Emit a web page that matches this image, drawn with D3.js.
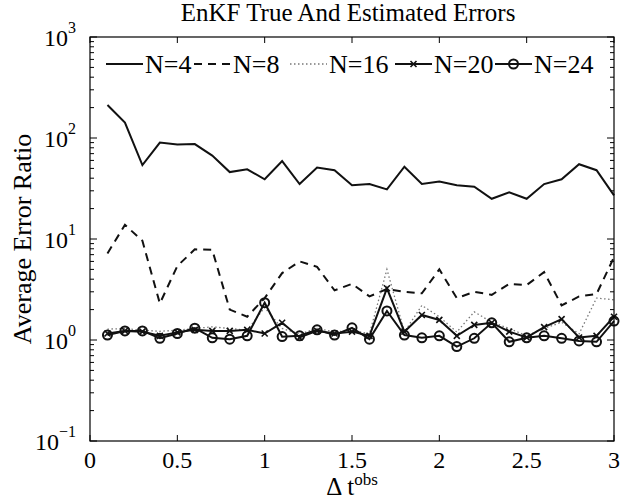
<!DOCTYPE html>
<html>
<head>
<meta charset="utf-8">
<script src="https://cdn.jsdelivr.net/npm/d3@7"></script>
<style>
  body { margin: 0; background: white; }
  text { font-family: "Liberation Serif", "Times New Roman", serif; fill: black; }
</style>
</head>
<body>
<div id="chart"></div>
<script>
var dt = [0.1, 0.2, 0.3, 0.4, 0.5, 0.6, 0.7, 0.8, 0.9, 1.0,
          1.1, 1.2, 1.3, 1.4, 1.5, 1.6, 1.7, 1.8, 1.9, 2.0,
          2.1, 2.2, 2.3, 2.4, 2.5, 2.6, 2.7, 2.8, 2.9, 3.0];

var n4  = [212, 142, 54, 90, 86, 87, 67, 46, 49, 39,
           59, 35, 51, 48, 34, 35, 31, 52, 35, 37,
           34, 33, 25, 29, 25, 35, 39, 55, 48, 27];
var n8  = [7.2, 13.8, 9.6, 2.3, 5.4, 7.9, 7.8, 2.0, 1.7, 2.6,
           4.6, 6.0, 5.3, 3.1, 3.6, 2.7, 3.2, 3.0, 2.9, 5.0,
           2.6, 3.0, 2.8, 3.6, 3.5, 4.7, 2.2, 2.7, 2.85, 6.6];
var n16 = [1.28, 1.3, 1.25, 1.22, 1.25, 1.3, 1.35, 1.3, 1.25, 2.1,
           1.3, 1.15, 1.3, 1.2, 1.25, 1.15, 5.0, 1.2, 2.2, 1.7,
           1.2, 1.9, 1.5, 1.3, 1.1, 1.3, 1.5, 1.15, 2.6, 2.5];
var n20 = [1.16, 1.23, 1.21, 1.1, 1.19, 1.26, 1.23, 1.23, 1.26, 1.16,
           1.48, 1.06, 1.23, 1.16, 1.21, 1.1, 3.25, 1.21, 1.77, 1.58,
           1.1, 1.41, 1.48, 1.21, 1.06, 1.34, 1.61, 1.06, 1.1, 1.7];
var n24 = [1.12, 1.23, 1.23, 1.04, 1.16, 1.31, 1.05, 1.02, 1.1, 2.34,
           1.08, 1.1, 1.26, 1.12, 1.32, 1.02, 1.94, 1.12, 1.05, 1.1,
           0.86, 1.04, 1.48, 0.96, 1.05, 1.1, 1.04, 0.98, 0.96, 1.54];

var seriesNames = ["N=4", "N=8", "N=16", "N=20", "N=24"];
var xTicks = [0, 0.5, 1, 1.5, 2, 2.5, 3];
var xTickLabels = ["0", "0.5", "1", "1.5", "2", "2.5", "3"];
var yDecades = [-1, 0, 1, 2, 3];

var W = 628, H = 502;
// note: "top" is a window global, so plot edges get their own names
var padL = 90, padR = 614, padT = 37, padB = 441;

var svg = d3.select("#chart").append("svg")
    .attr("width", W).attr("height", H);

var x = d3.scaleLinear().domain([0, 3]).range([padL, padR]);
var y = d3.scaleLog().domain([0.1, 1000]).range([padB, padT]);

// styles per series
var styles = [
  {data: n4,  dash: null,  width: 2,   color: "#111", marker: null},
  {data: n8,  dash: "8,6", width: 2,   color: "#111", marker: null},
  {data: n16, dash: "1.5,2.5", width: 1.3, color: "#777", marker: null},
  {data: n20, dash: null,  width: 2,   color: "#111", marker: "x"},
  {data: n24, dash: null,  width: 2,   color: "#111", marker: "o"}
];

// frame ticks
var g = svg.append("g");

function tickLines(vals, len, isY) {
  vals.forEach(function(v) {
    if (isY) {
      var p = y(v);
      g.append("line").attr("x1", padL).attr("x2", padL + len).attr("y1", p).attr("y2", p)
        .attr("stroke", "black").attr("stroke-width", 1);
      g.append("line").attr("x1", padR).attr("x2", padR - len).attr("y1", p).attr("y2", p)
        .attr("stroke", "black").attr("stroke-width", 1);
    } else {
      var q = x(v);
      g.append("line").attr("x1", q).attr("x2", q).attr("y1", padB).attr("y2", padB - len)
        .attr("stroke", "black").attr("stroke-width", 1);
      g.append("line").attr("x1", q).attr("x2", q).attr("y1", padT).attr("y2", padT + len)
        .attr("stroke", "black").attr("stroke-width", 1);
    }
  });
}

var major = yDecades.map(function(d) { return Math.pow(10, d); });
var minor = [];
yDecades.slice(0, -1).forEach(function(d) {
  for (var k = 2; k <= 9; k++) minor.push(k * Math.pow(10, d));
});
tickLines(major, 7, true);
tickLines(minor, 4, true);
tickLines(xTicks, 6, false);

// lines
var line = d3.line()
    .x(function(d, i) { return x(dt[i]); })
    .y(function(d) { return y(d); });

styles.forEach(function(s) {
  svg.append("path").datum(s.data)
    .attr("d", line)
    .attr("fill", "none")
    .attr("stroke", s.color)
    .attr("stroke-width", s.width)
    .attr("stroke-dasharray", s.dash)
    .attr("stroke-linejoin", "miter");

  if (s.marker == "x") {
    s.data.forEach(function(d, i) {
      var cx = x(dt[i]), cy = y(d), r = 3;
      svg.append("path")
        .attr("d", "M" + (cx - r) + "," + (cy - r) + "L" + (cx + r) + "," + (cy + r) +
                   "M" + (cx - r) + "," + (cy + r) + "L" + (cx + r) + "," + (cy - r))
        .attr("stroke", "#111").attr("stroke-width", 1.6);
    });
  }
  if (s.marker == "o") {
    svg.selectAll(null).data(s.data).enter().append("circle")
      .attr("cx", function(d, i) { return x(dt[i]); })
      .attr("cy", function(d) { return y(d); })
      .attr("r", 4.5)
      .attr("fill", "none")
      .attr("stroke", "#111")
      .attr("stroke-width", 2);
  }
});

// frame
svg.append("rect")
  .attr("x", padL).attr("y", padT)
  .attr("width", padR - padL).attr("height", padB - padT)
  .attr("fill", "none").attr("stroke", "black").attr("stroke-width", 1.2);

// x tick labels
xTicks.forEach(function(v, i) {
  svg.append("text")
    .attr("x", x(v)).attr("y", padB + 27)
    .attr("text-anchor", "middle")
    .attr("font-size", 24)
    .text(xTickLabels[i]);
});

// y tick labels 10^k
yDecades.forEach(function(d) {
  var p = y(Math.pow(10, d));
  var t = svg.append("text")
    .attr("x", 76).attr("y", p + 9)
    .attr("text-anchor", "end")
    .attr("font-size", 24);
  t.append("tspan").text("10");
  t.append("tspan").attr("font-size", 16).attr("dy", -13)
    .text(d < 0 ? "\u2212" + Math.abs(d) : String(d));
});

// title
svg.append("text")
  .attr("x", (padL + padR) / 2 - 4).attr("y", 21)
  .attr("text-anchor", "middle")
  .attr("font-size", 25)
  .text("EnKF True And Estimated Errors");

// y label
svg.append("text")
  .attr("transform", "translate(31," + ((padT + padB) / 2) + ") rotate(-90)")
  .attr("text-anchor", "middle")
  .attr("font-size", 26)
  .text("Average Error Ratio");

// x label
var xl = svg.append("text")
  .attr("x", (padL + padR) / 2).attr("y", 495)
  .attr("text-anchor", "middle")
  .attr("font-size", 25);
xl.append("tspan").text("\u0394 t");
xl.append("tspan").attr("font-size", 17).attr("dy", -10).text("obs");

// legend
var legX = [106, 194, 290, 395, 495];
var legY = 64;
styles.forEach(function(s, i) {
  var x0 = legX[i], x1 = x0 + 37;
  svg.append("line")
    .attr("x1", x0).attr("x2", x1).attr("y1", legY).attr("y2", legY)
    .attr("stroke", s.color).attr("stroke-width", s.width)
    .attr("stroke-dasharray", s.dash);
  var mx = (x0 + x1) / 2;
  if (s.marker == "x") {
    svg.append("path")
      .attr("d", "M" + (mx - 3) + "," + (legY - 3) + "L" + (mx + 3) + "," + (legY + 3) +
                 "M" + (mx - 3) + "," + (legY + 3) + "L" + (mx + 3) + "," + (legY - 3))
      .attr("stroke", "#111").attr("stroke-width", 1.6);
  }
  if (s.marker == "o") {
    svg.append("circle").attr("cx", mx).attr("cy", legY).attr("r", 4.5)
      .attr("fill", "none").attr("stroke", "#111").attr("stroke-width", 2);
  }
  svg.append("text")
    .attr("x", x1 + 2).attr("y", legY + 9)
    .attr("font-size", 26)
    .text(seriesNames[i]);
});
</script>
</body>
</html>
